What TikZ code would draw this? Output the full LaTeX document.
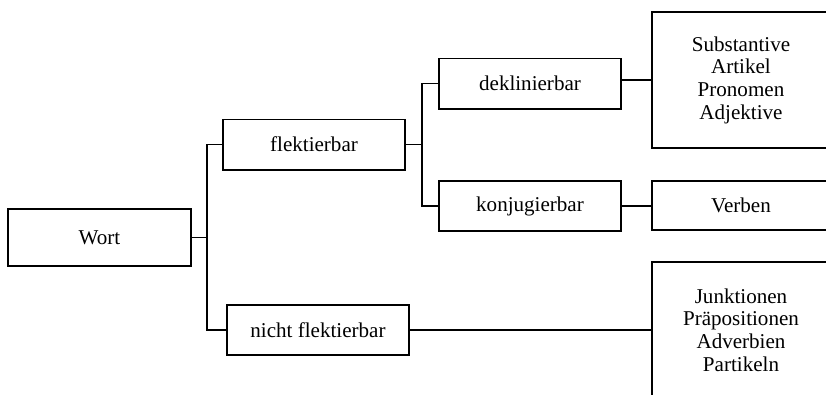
\documentclass[tikz,border=0pt]{standalone}
\usepackage{fontspec}
\setmainfont{Liberation Serif}
\begin{document}
\begin{tikzpicture}[x=0.75pt,y=-0.75pt,line width=1pt,
    box/.style={draw,inner sep=0pt,outer sep=0pt,align=center,
      font=\fontsize{15.8}{17}\selectfont,minimum width=136.5pt,minimum height=38pt},
    wide/.style={box,minimum width=133.5pt}]
      \clip (0,0) rectangle (826,394);
      \draw
        (99.5,237.5) node[box,minimum width=137.25pt,minimum height=42.75pt] (wort){Wort}
        (314,144.5) node[box] (flek){flektierbar}
        (530,83.5) node[box] (dekl){deklinierbar}
        (530,206) node[box,minimum height=37.5pt] (konj){konjugierbar}
        (318,330) node[box,minimum height=37.5pt] (nicht){nicht flektierbar}
        (741,80) node[wide,minimum height=102pt] (subst){Substantive\\Artikel\\Pronomen\\Adjektive}
        (741,205.5) node[wide,minimum height=36.75pt] (verb){Verben}
        (741,330) node[wide,minimum height=102pt] (rest){Junktionen\\Präpositionen\\Adverbien\\Partikeln};
      \begin{scope}[-]
        \draw (wort.east) -- ++(16,0) coordinate (wortfork);
        \draw (wortfork) |- (flek.west);
        \draw (wortfork) |- (nicht.west);
        \draw (flek.east) -- ++(17,0) coordinate (flekfork);
        \draw (flekfork) |- (dekl.west);
        \draw (flekfork) |- (konj.west);
        \draw (dekl.east |- subst.west) -- (subst.west);
        \draw (konj.east) -- (konj.east -| verb.west);
        \draw (nicht.east) -- (nicht.east -| rest.west);
      \end{scope}
    \end{tikzpicture}
\end{document}
